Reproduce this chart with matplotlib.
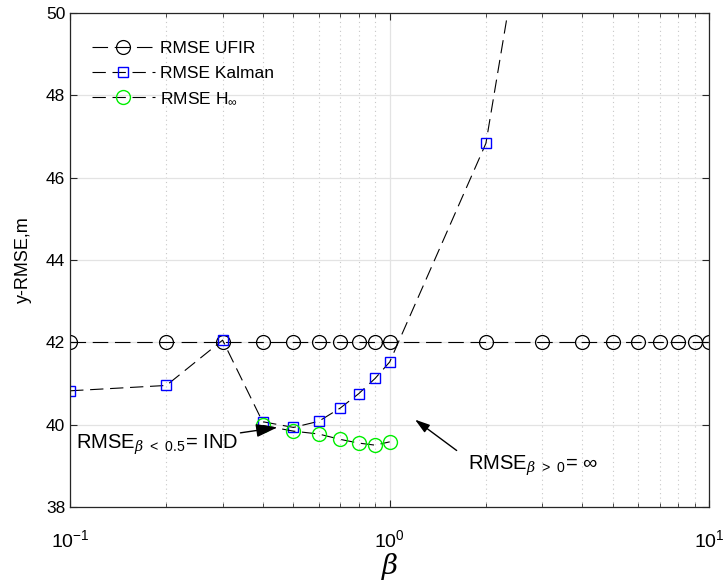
import matplotlib
matplotlib.use("Agg")
import matplotlib.pyplot as plt
from matplotlib.ticker import LogLocator, MultipleLocator

plt.rcParams["font.family"] = ["Liberation Sans", "DejaVu Sans"]
plt.rcParams["mathtext.fontset"] = "custom"
plt.rcParams["mathtext.rm"] = "Liberation Sans"
plt.rcParams["mathtext.sf"] = "Liberation Sans"
plt.rcParams["mathtext.it"] = "DejaVu Serif:italic"

beta_ufir = [0.1, 0.2, 0.3, 0.4, 0.5, 0.6, 0.7, 0.8, 0.9, 1, 2, 3, 4, 5, 6, 7, 8, 9, 10]
rmse_ufir = [42.0] * len(beta_ufir)

beta_kal = [0.1, 0.2, 0.3, 0.4, 0.5, 0.6, 0.7, 0.8, 0.9, 1, 2, 3]
rmse_kal = [40.82, 40.95, 42.05, 40.07, 39.93, 40.08, 40.4, 40.75, 41.12, 41.52, 46.83, 55.0]

beta_hinf = [0.4, 0.5, 0.6, 0.7, 0.8, 0.9, 1.0]
rmse_hinf = [39.98, 39.84, 39.77, 39.64, 39.55, 39.5, 39.58]

fig = plt.figure(figsize=(7.23, 5.86), dpi=100)
ax = fig.add_axes([0.097, 0.135, 0.884, 0.843])

ax.plot(beta_ufir, rmse_ufir, color="k", lw=0.8, dashes=(14, 6),
        marker="o", ms=10, mfc="none", mec="k", mew=0.9, label="RMSE UFIR")
ax.plot(beta_kal, rmse_kal, color="k", lw=0.8, dashes=(12, 6),
        marker="s", ms=7, mfc="none", mec="#0000ff", mew=1.0, label="RMSE Kalman")
ax.plot(beta_hinf, rmse_hinf, color="k", lw=0.8, dashes=(12, 6),
        marker="o", ms=10, mfc="none", mec="#00ee00", mew=1.0,
        label=r"RMSE H$_{\infty}$")

ax.set_xscale("log")
ax.set_xlim(0.1, 10)
ax.set_ylim(38, 50)
ax.yaxis.set_major_locator(MultipleLocator(2))
ax.xaxis.set_minor_locator(LogLocator(base=10, subs=range(2, 10)))

ax.grid(True, which="major", color="#e3e3e3", lw=0.9, ls="-")
ax.grid(True, which="minor", axis="x", color="#c8c8c8", lw=0.8, ls=(0, (1, 3)))
ax.set_axisbelow(True)

ax.tick_params(which="both", direction="in", top=True, right=True,
               labelsize=12.5, color="#262626")
ax.tick_params(axis="x", which="major", pad=16, labelsize=14)
ax.tick_params(which="major", length=5)
ax.tick_params(which="minor", length=3)
for s in ax.spines.values():
    s.set_color("#262626")
    s.set_linewidth(0.9)

ax.set_ylabel("y-RMSE,m", fontsize=13, labelpad=10)
ax.set_xlabel(r"$\beta$", fontsize=20, labelpad=0)

leg = ax.legend(loc="upper left", frameon=False, fontsize=12.5, handlelength=3.6,
                handletextpad=0.3, labelspacing=0.55, bbox_to_anchor=(0.01, 0.975))

arrow = dict(arrowstyle="-|>,head_length=0.9,head_width=0.28",
             color="k", lw=1.0, shrinkA=0, shrinkB=0)
ax.annotate(r"RMSE$_{\beta\ <\ 0.5}$= IND", xy=(0.445, 39.93), xytext=(0.104, 39.5),
            fontsize=14.5, va="center", ha="left", arrowprops=arrow,
            annotation_clip=False)
ax.annotate("", xy=(1.2, 40.12), xytext=(1.62, 39.37), arrowprops=arrow)
ax.text(1.76, 39.0, r"RMSE$_{\beta\ >\ 0}$= $\infty$", fontsize=14.5,
        va="center", ha="left")

fig.savefig("out.png", dpi=100)
